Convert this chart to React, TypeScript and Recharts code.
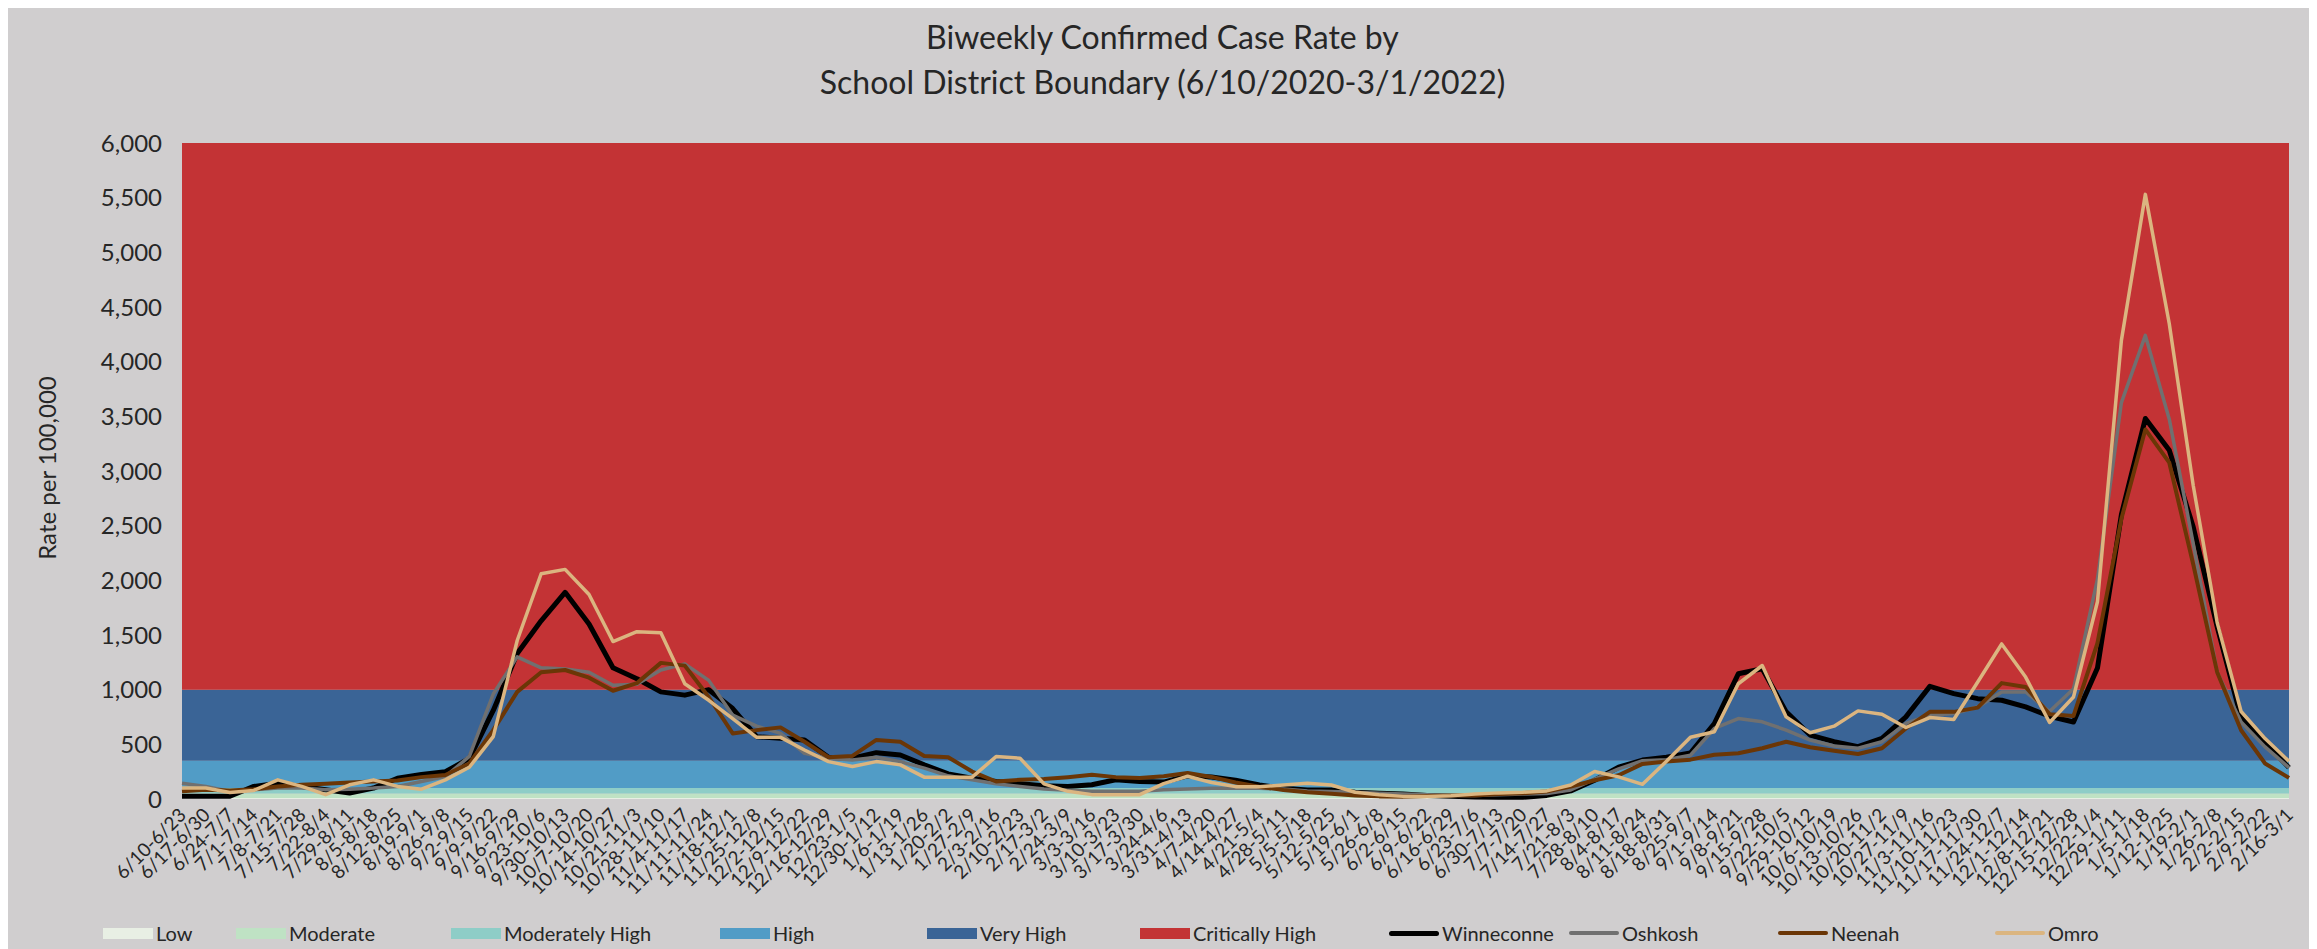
import React from 'react';
import { ComposedChart, Line, XAxis, YAxis, ReferenceArea } from 'recharts';

const categories = [
  '6/10-6/23', '6/17-6/30', '6/24-7/7', '7/1-7/14', '7/8-7/21', '7/15-7/28', '7/22-8/4', '7/29-8/11',
  '8/5-8/18', '8/12-8/25', '8/19-9/1', '8/26-9/8', '9/2-9/15', '9/9-9/22', '9/16-9/29', '9/23-10/6',
  '9/30-10/13', '10/7-10/20', '10/14-10/27', '10/21-11/3', '10/28-11/10', '11/4-11/17', '11/11-11/24',
  '11/18-12/1', '11/25-12/8', '12/2-12/15', '12/9-12/22', '12/16-12/29', '12/23-1/5', '12/30-1/12',
  '1/6-1/19', '1/13-1/26', '1/20-2/2', '1/27-2/9', '2/3-2/16', '2/10-2/23', '2/17-3/2', '2/24-3/9',
  '3/3-3/16', '3/10-3/23', '3/17-3/30', '3/24-4/6', '3/31-4/13', '4/7-4/20', '4/14-4/27', '4/21-5/4',
  '4/28-5/11', '5/5-5/18', '5/12-5/25', '5/19-6/1', '5/26-6/8', '6/2-6/15', '6/9-6/22', '6/16-6/29',
  '6/23-7/6', '6/30-7/13', '7/7-7/20', '7/14-7/27', '7/21-8/3', '7/28-8/10', '8/4-8/17', '8/11-8/24',
  '8/18-8/31', '8/25-9/7', '9/1-9/14', '9/8-9/21', '9/15-9/28', '9/22-10/5', '9/29-10/12', '10/6-10/19',
  '10/13-10/26', '10/20-11/2', '10/27-11/9', '11/3-11/16', '11/10-11/23', '11/17-11/30', '11/24-12/7',
  '12/1-12/14', '12/8-12/21', '12/15-12/28', '12/22-1/4', '12/29-1/11', '1/5-1/18', '1/12-1/25',
  '1/19-2/1', '1/26-2/8', '2/2-2/15', '2/9-2/22', '2/16-3/1',
];

const winneconne = [
  25, 25, 25, 115, 145, 115, 85, 55, 100, 190,
  225, 250, 370, 810, 1330, 1630, 1890, 1600, 1200, 1100,
  980, 950, 1000, 827, 570, 555, 540, 382, 373, 424,
  403, 312, 230, 191, 160, 139, 121, 115, 130, 176,
  160, 155, 211, 202, 172, 128, 98, 83, 83, 62,
  53, 45, 33, 24, 18, 15, 15, 33, 74, 172,
  291, 356, 382, 420, 690, 1145, 1191, 797, 585, 524,
  479, 554, 751, 1030, 964, 918, 903, 842, 757, 704,
  1198, 2602, 3480, 3190, 2488, 1577, 743, 515, 287,
];

const oshkosh = [
  145, 115, 70, 85, 100, 100, 85, 90, 100, 115,
  160, 205, 390, 960, 1300, 1200, 1190, 1160, 1040, 1050,
  1180, 1236, 1085, 767, 667, 600, 418, 373, 357, 382,
  342, 282, 212, 176, 139, 115, 91, 79, 70, 70,
  70, 85, 92, 98, 98, 98, 92, 74, 68, 62,
  53, 45, 39, 33, 33, 39, 45, 50, 83, 181,
  276, 350, 360, 400, 645, 736, 706, 630, 539, 485,
  464, 524, 691, 767, 782, 842, 979, 979, 800, 1008,
  2010, 3626, 4240, 3474, 2336, 1160, 704, 477, 287,
];

const neenah = [
  70, 85, 78, 90, 115, 130, 140, 150, 160, 170,
  200, 220, 325, 630, 980, 1160, 1180, 1110, 990, 1060,
  1245, 1220, 933, 600, 630, 655, 524, 382, 394, 540,
  524, 394, 382, 251, 160, 176, 182, 200, 221, 200,
  191, 208, 238, 202, 151, 113, 83, 62, 48, 33,
  24, 21, 27, 33, 33, 45, 53, 68, 113, 172,
  217, 321, 342, 360, 405, 418, 464, 524, 473, 442,
  412, 464, 645, 797, 797, 836, 1060, 1024, 776, 760,
  1425, 2563, 3380, 3076, 2146, 1160, 629, 325, 193,
];

const omro = [
  100, 100, 60, 78, 175, 115, 40, 130, 175, 115,
  90, 175, 290, 570, 1450, 2060, 2100, 1870, 1440, 1530,
  1520, 1054, 903, 736, 564, 564, 448, 342, 297, 342,
  312, 200, 200, 200, 388, 373, 139, 70, 40, 40,
  40, 140, 208, 151, 113, 113, 128, 143, 128, 62,
  39, 24, 24, 30, 45, 56, 62, 74, 128, 252,
  202, 134, 345, 565, 615, 1054, 1221, 751, 606, 666,
  806, 776, 654, 745, 727, 1070, 1418, 1115, 700, 933,
  1804, 4195, 5530, 4347, 2867, 1615, 800, 553, 345,
];

const yTicks = [0, 500, 1000, 1500, 2000, 2500, 3000, 3500, 4000, 4500, 5000, 5500, 6000];

// risk level bands (case rate per 100,000)
const bandNames = ['Low', 'Moderate', 'Moderately High', 'High', 'Very High', 'Critically High'];
const bandFrom = [0, 10, 50, 100, 350, 1000];
const bandTo = [10, 50, 100, 350, 1000, 6000];
const bandColors = ['#e8efe4', '#bfe2c4', '#8ecdc7', '#519cc6', '#3a6496', '#c33335'];

const seriesNames = ['Winneconne', 'Oshkosh', 'Neenah', 'Omro'];
const seriesColors = ['#000000', '#707070', '#6b3606', '#dbb580'];
const seriesWidths = [5, 3.5, 4, 3.5];
const seriesValues = [winneconne, oshkosh, neenah, omro];

// left edge of each legend entry, px
const legendLeft = [95, 228, 443, 712, 919, 1132, 1381, 1561, 1770, 1987];

const data = categories.map((name, i) => {
  const row: Record<string, string | number> = { name };
  seriesNames.forEach((s, k) => {
    row[s] = seriesValues[k][i];
  });
  return row;
});

const FONT = 'Lato, "Open Sans", sans-serif';
const TEXT = '#262626';

const XTick = (props: any) => {
  const { x, y, payload } = props;
  return (
    <text
      x={x}
      y={y}
      transform={`rotate(-45 ${x} ${y})`}
      textAnchor="end"
      dominantBaseline="central"
      fontSize={19}
      fontFamily={FONT}
      fill={TEXT}
    >
      {payload.value}
    </text>
  );
};

function LegendRow() {
  const items = [
    ...bandNames.map((n, i) => ({ n, color: bandColors[i], h: 11, w: 50, r: 0 })),
    ...seriesNames.map((n, i) => ({ n, color: seriesColors[i], h: seriesWidths[i], w: 50, r: 3 })),
  ];
  return (
    <>
      {items.map((it, i) => (
        <div
          key={it.n}
          style={{
            position: 'absolute',
            top: 915,
            left: legendLeft[i],
            height: 28,
            display: 'flex',
            alignItems: 'center',
            fontSize: 20,
            color: TEXT,
            whiteSpace: 'nowrap',
          }}
        >
          <span
            style={{
              width: it.w,
              height: it.h,
              background: it.color,
              borderRadius: it.r,
              marginRight: 3,
            }}
          />
          <span>{it.n}</span>
        </div>
      ))}
    </>
  );
}

export default function App() {
  return (
    <div
      style={{
        position: 'relative',
        width: 2309,
        height: 945,
        marginTop: -4,
        background: '#d0cecf',
        fontFamily: FONT,
      }}
    >
      <div
        style={{
          position: 'absolute',
          top: 10,
          left: 0,
          width: '100%',
          textAlign: 'center',
          fontSize: 32,
          lineHeight: '45px',
          color: TEXT,
        }}
      >
        Biweekly Confirmed Case Rate by
        <br />
        School District Boundary (6/10/2020-3/1/2022)
      </div>
      <div
        style={{
          position: 'absolute',
          left: 39 - 150,
          top: 464 - 15,
          width: 300,
          height: 30,
          lineHeight: '30px',
          textAlign: 'center',
          fontSize: 24,
          color: TEXT,
          transform: 'rotate(-90deg)',
        }}
      >
        Rate per 100,000
      </div>
      <ComposedChart
        width={2309}
        height={945}
        data={data}
        margin={{ top: 139, right: 28, bottom: 0, left: 0 }}
      >
        {bandNames.map((n, i) => (
          <ReferenceArea
            key={n}
            y1={bandFrom[i]}
            y2={bandTo[i]}
            fill={bandColors[i]}
            fillOpacity={1}
            stroke="none"
          />
        ))}
        <XAxis
          dataKey="name"
          interval={0}
          height={150}
          axisLine={false}
          tickLine={false}
          tickSize={0}
          tickMargin={12}
          tick={<XTick />}
        />
        <YAxis
          domain={[0, 6000]}
          ticks={yTicks}
          width={174}
          axisLine={false}
          tickLine={false}
          tickSize={0}
          tickMargin={20}
          tickFormatter={(v: number) => v.toLocaleString('en-US')}
          tick={{ fontSize: 24, fill: TEXT, fontFamily: FONT }}
        />
        {seriesNames.map((n, i) => (
          <Line
            key={n}
            type="linear"
            dataKey={n}
            stroke={seriesColors[i]}
            strokeWidth={seriesWidths[i]}
            strokeLinejoin="round"
            dot={false}
            activeDot={false}
            isAnimationActive={false}
          />
        ))}
      </ComposedChart>
      <LegendRow />
    </div>
  );
}
